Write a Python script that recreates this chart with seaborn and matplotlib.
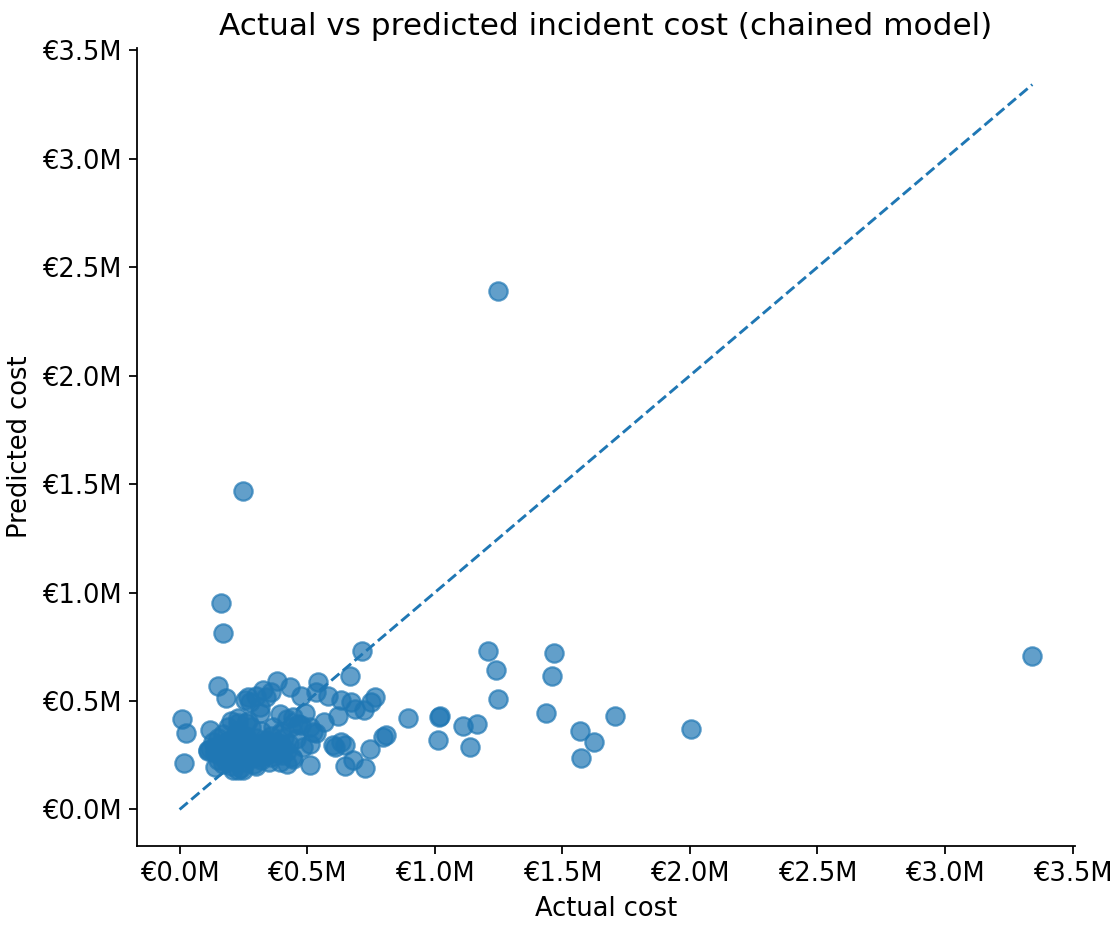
import matplotlib
matplotlib.use("Agg")
import matplotlib.pyplot as plt
from matplotlib.ticker import FuncFormatter
import seaborn as sns
import pandas as pd

# Incident costs in millions of euros: actual outcome vs chained-model prediction
actual_cost = [
    3.342, 1.249, 0.248, 0.164, 0.171, 0.713, 1.207, 1.240, 1.249, 1.016,
    1.020, 1.012, 1.110, 1.164, 1.140, 1.468, 1.459, 1.436, 1.569, 1.624,
    1.574, 1.707, 2.006, 0.894,
    0.666, 0.151, 0.180, 0.382, 0.544, 0.432, 0.327, 0.360, 0.268, 0.301,
    0.477, 0.536, 0.581, 0.634, 0.673, 0.764, 0.751, 0.721, 0.686, 0.314,
    0.392, 0.490, 0.621, 0.008, 0.027, 0.018, 0.419, 0.464, 0.510, 0.566,
    0.366, 0.399, 0.536, 0.601, 0.634, 0.647, 0.745, 0.797, 0.810, 0.510,
    0.484, 0.510, 0.647, 0.679, 0.725, 0.445, 0.392, 0.119, 0.523, 0.477,
    0.438, 0.458, 0.608, 0.399, 0.275, 0.256, 0.314, 0.340, 0.445, 0.112,
    0.138, 0.229,
    0.12, 0.13, 0.14, 0.15, 0.15, 0.16, 0.17, 0.17, 0.18, 0.18,
    0.19, 0.19, 0.20, 0.20, 0.21, 0.21, 0.22, 0.22, 0.23, 0.23,
    0.24, 0.24, 0.25, 0.25, 0.26, 0.26, 0.27, 0.27, 0.28, 0.28,
    0.29, 0.29, 0.30, 0.30, 0.31, 0.32, 0.32, 0.33, 0.34, 0.34,
    0.35, 0.36, 0.36, 0.37, 0.38, 0.39, 0.40, 0.41, 0.42, 0.43,
    0.44, 0.11, 0.21, 0.23, 0.26, 0.20, 0.23, 0.27, 0.25, 0.30,
    0.35, 0.40, 0.42,
    0.16, 0.18, 0.20, 0.22, 0.24, 0.26, 0.28, 0.30, 0.32, 0.34,
    0.17, 0.19, 0.21, 0.23, 0.25, 0.27, 0.29, 0.31, 0.33, 0.35,
    0.14, 0.22, 0.26, 0.30, 0.37, 0.38,
]
predicted_cost = [
    0.706, 2.388, 1.467, 0.952, 0.814, 0.729, 0.731, 0.642, 0.508, 0.427,
    0.432, 0.319, 0.384, 0.392, 0.286, 0.722, 0.617, 0.447, 0.361, 0.309,
    0.236, 0.430, 0.371, 0.422,
    0.614, 0.570, 0.512, 0.591, 0.588, 0.565, 0.550, 0.542, 0.519, 0.522,
    0.524, 0.542, 0.522, 0.504, 0.496, 0.519, 0.496, 0.458, 0.465, 0.445,
    0.442, 0.447, 0.431, 0.415, 0.353, 0.212, 0.419, 0.396, 0.381, 0.404,
    0.381, 0.358, 0.353, 0.296, 0.312, 0.296, 0.281, 0.335, 0.342, 0.304,
    0.289, 0.204, 0.200, 0.230, 0.189, 0.235, 0.219, 0.365, 0.358, 0.388,
    0.381, 0.327, 0.289, 0.304, 0.496, 0.504, 0.473, 0.519, 0.427, 0.273,
    0.196, 0.181,
    0.28, 0.31, 0.26, 0.33, 0.23, 0.29, 0.21, 0.35, 0.27, 0.31,
    0.24, 0.38, 0.29, 0.20, 0.33, 0.26, 0.30, 0.23, 0.36, 0.28,
    0.19, 0.32, 0.25, 0.29, 0.34, 0.22, 0.27, 0.31, 0.24, 0.38,
    0.29, 0.21, 0.33, 0.26, 0.30, 0.23, 0.36, 0.28, 0.25, 0.32,
    0.29, 0.24, 0.34, 0.27, 0.31, 0.26, 0.29, 0.33, 0.27, 0.30,
    0.24, 0.27, 0.18, 0.40, 0.40, 0.41, 0.42, 0.41, 0.18, 0.20,
    0.22, 0.25, 0.21,
    0.25, 0.22, 0.26, 0.27, 0.28, 0.30, 0.25, 0.27, 0.29, 0.27,
    0.30, 0.28, 0.23, 0.25, 0.32, 0.24, 0.26, 0.24, 0.30, 0.26,
    0.29, 0.35, 0.31, 0.28, 0.30, 0.28,
]

df = pd.DataFrame({"actual": actual_cost, "predicted": predicted_cost})

sns.set_style("ticks")
plt.rcParams["font.family"] = ["DejaVu Sans"]
plt.rcParams.update({
    "text.color": "black",
    "axes.labelcolor": "black",
    "axes.edgecolor": "black",
    "xtick.color": "black",
    "ytick.color": "black",
    "xtick.labelsize": 11.6,
    "ytick.labelsize": 11.6,
    "axes.labelsize": 11.6,
})

fig, ax = plt.subplots(figsize=(1118 / 160, 925 / 160), dpi=160)
fig.subplots_adjust(left=0.1225, right=0.9615, bottom=0.0857, top=0.9478)

sns.scatterplot(data=df, x="actual", y="predicted", ax=ax, s=68, alpha=0.7,
                color="#1f77b4", edgecolor="#1f77b4", linewidth=1.0)

# Perfect-prediction reference line
upper = max(max(actual_cost), max(predicted_cost))
ax.plot([0, upper], [0, upper], linestyle="--", color="#1f77b4", linewidth=1.3)

fmt = FuncFormatter(lambda v, _: f"€{v:.1f}M")
ax.xaxis.set_major_formatter(fmt)
ax.yaxis.set_major_formatter(fmt)

ax.set_title("Actual vs predicted incident cost (chained model)", fontsize=14)
ax.set_xlabel("Actual cost")
ax.set_ylabel("Predicted cost")
sns.despine(ax=ax)

fig.savefig("out.png", dpi=160)
